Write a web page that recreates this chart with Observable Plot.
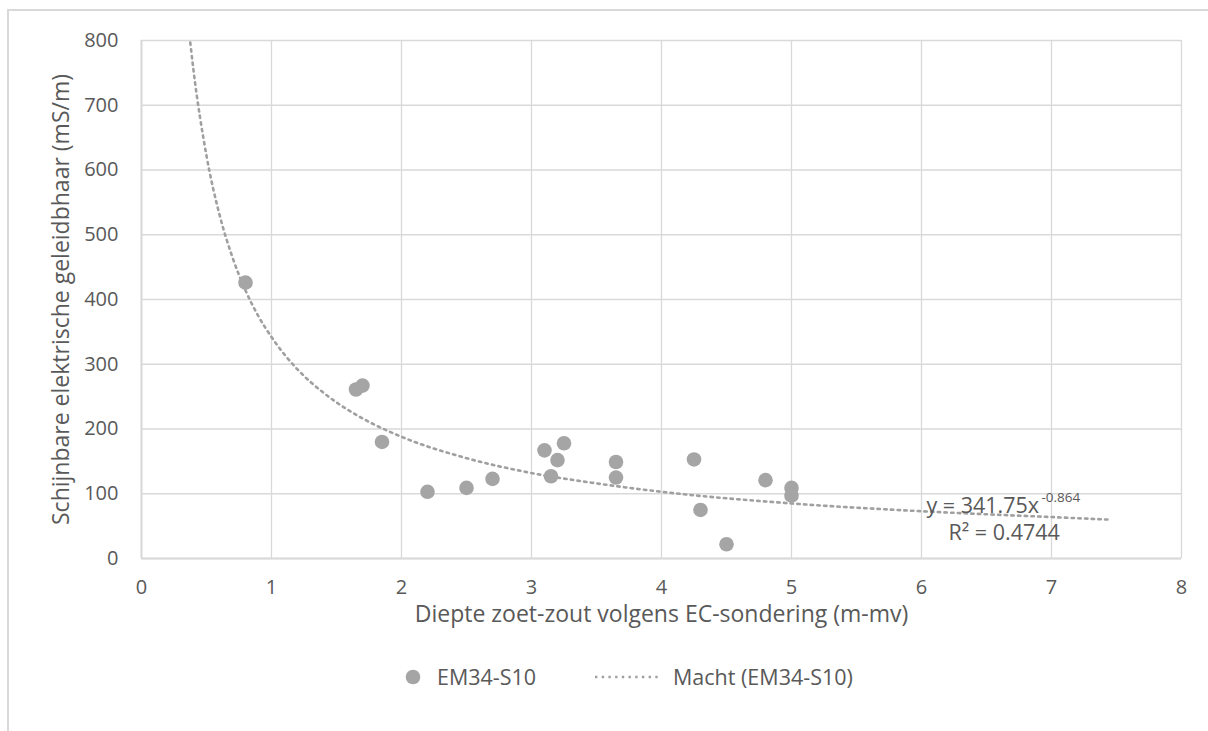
<!DOCTYPE html>
<html><head><meta charset="utf-8">
<script src="https://cdn.jsdelivr.net/npm/d3@7"></script>
<script src="https://cdn.jsdelivr.net/npm/@observablehq/plot@0.6"></script>
<style>
html,body{margin:0;padding:0;background:#fff;}
body{width:1208px;height:731px;position:relative;overflow:hidden;font-family:"Open Sans",sans-serif;color:#595959;}
#frame{position:absolute;left:7px;top:9px;width:1300px;height:800px;border-top:2px solid #d9d9d9;border-left:2px solid #d9d9d9;box-sizing:border-box;}
#chart{position:absolute;left:0;top:0;}
#legend{position:absolute;top:660px;left:0;width:1208px;height:34px;font-size:21.5px;}
.item{position:absolute;top:0;height:34px;line-height:34px;white-space:nowrap;}
.item svg{position:absolute;top:0;}
</style>
</head><body>
<div id="frame"></div>
<div id="chart"></div>
<div id="legend"></div>
<script>
// Data
const seriesName = "EM34-S10";
const trendName = "Macht (EM34-S10)";
const depth = [0.8, 1.65, 1.70, 1.85, 2.2, 2.5, 2.7, 3.1, 3.25, 3.2, 3.15, 3.65, 3.65, 4.25, 4.3, 4.5, 4.8, 5.0, 5.0];
const ec    = [426, 261, 267, 180, 103, 109, 123, 167, 178, 152, 127, 149, 125, 153, 75, 22, 121, 109, 97];
// Power trendline (y = 341.75 x^-0.864)
const trendX = [0.375, 0.4, 0.5, 0.6, 0.7, 0.8, 0.9, 1.0, 1.2, 1.4, 1.6, 1.8, 2.0, 2.5, 3.0, 3.5, 4.0, 5.0, 6.0, 7.0, 7.45];
const trendY = [797, 754, 622, 531, 465, 414, 374, 342, 292, 256, 228, 206, 188, 155, 132, 116, 103, 85, 73, 64, 60];
const xTicks = [0, 1, 2, 3, 4, 5, 6, 7, 8];
const yTicks = [0, 100, 200, 300, 400, 500, 600, 700, 800];
const xTitle = "Diepte zoet-zout volgens EC-sondering (m-mv)";
const yTitle = "Schijnbare elektrische geleidbhaar (mS/m)";
const eqMain = "y = 341.75x";
const eqExp = "-0.864";
const eqR2 = "R² = 0.4744";

const points = depth.map((d, i) => ({x: d, y: ec[i]}));
const trend = trendX.map((d, i) => ({x: d, y: trendY[i]}));

const gray = "#a5a5a5";
const grid = "#d9d9d9";
const fmt = d3.format("d");

const chart = Plot.plot({
  width: 1208,
  height: 640,
  marginLeft: 141,
  marginRight: 27,
  marginTop: 40,
  marginBottom: 82,
  style: {fontFamily: "Open Sans, sans-serif", fontSize: "20px", color: "#595959", background: "transparent", overflow: "visible"},
  x: {domain: [0, 8], ticks: xTicks},
  y: {domain: [0, 800], ticks: yTicks},
  marks: [
    Plot.gridX(xTicks, {stroke: grid, strokeOpacity: 1, strokeWidth: 1.3}),
    Plot.gridY(yTicks, {stroke: grid, strokeOpacity: 1, strokeWidth: 1.3}),
    Plot.ruleY([0], {stroke: grid, strokeWidth: 2}),
    Plot.ruleX([0], {stroke: grid, strokeWidth: 2}),
    Plot.axisX(xTicks, {tickSize: 0, tickPadding: 21, label: null, tickFormat: fmt, fill: "#595959", fontSize: 20}),
    Plot.axisY(yTicks, {tickSize: 0, tickPadding: 23, label: null, tickFormat: fmt, fill: "#595959", fontSize: 20}),
    Plot.line(trend, {x: "x", y: "y", stroke: "#a0a0a0", strokeWidth: 2.6, strokeDasharray: "2.4,4.3", curve: "monotone-x"}),
    Plot.dot(points, {x: "x", y: "y", r: 7.3, fill: gray, stroke: "none"}),
    Plot.text([eqMain], {frameAnchor: "bottom-right", dx: -255, dy: -46, textAnchor: "start", fontSize: 21.5, fill: "#595959"}),
    Plot.text([eqExp], {frameAnchor: "bottom-right", dx: -140, dy: -57, textAnchor: "start", fontSize: 13.5, fill: "#595959"}),
    Plot.text([eqR2], {frameAnchor: "bottom-right", dx: -233, dy: -19, textAnchor: "start", fontSize: 21.5, fill: "#595959"}),
    Plot.text([xTitle], {frameAnchor: "bottom", dy: 63, fontSize: 23, fill: "#595959"}),
    Plot.text([yTitle], {frameAnchor: "left", dx: -80, rotate: -90, textAnchor: "middle", fontSize: 23, fill: "#595959"})
  ]
});
document.getElementById("chart").appendChild(chart);

// Legend below the SVG
const legend = document.getElementById("legend");
const it1 = document.createElement("div");
it1.className = "item"; it1.style.left = "404px";
it1.innerHTML = `<svg width="20" height="34" style="left:0"><circle cx="9" cy="17" r="7.3" fill="${gray}"/></svg><span style="margin-left:33px">${seriesName}</span>`;
legend.appendChild(it1);
const it2 = document.createElement("div");
it2.className = "item"; it2.style.left = "594px";
it2.innerHTML = `<svg width="70" height="34" style="left:0"><line x1="1" x2="66" y1="17" y2="17" stroke="#a0a0a0" stroke-width="2.6" stroke-dasharray="2.4,4.3"/></svg><span style="margin-left:79px">${trendName}</span>`;
legend.appendChild(it2);
</script>
</body></html>
